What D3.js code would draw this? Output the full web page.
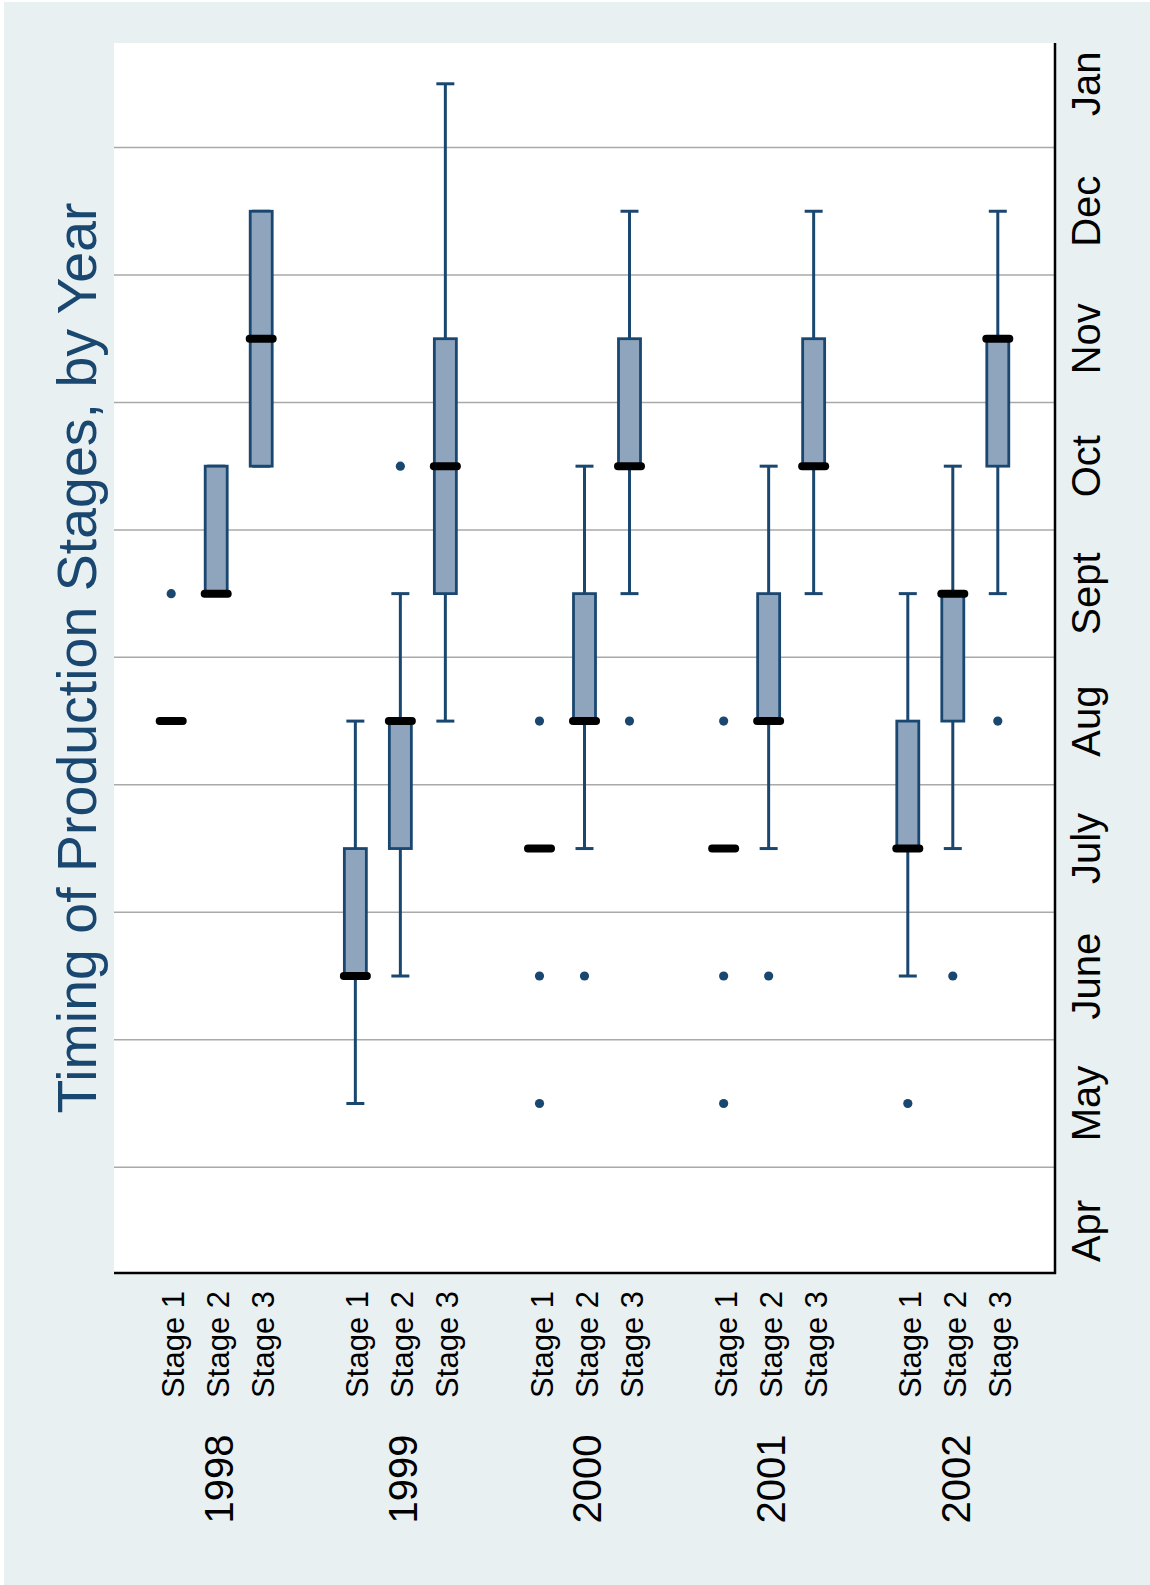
<!DOCTYPE html>
<html>
<head>
<meta charset="utf-8">
<script src="https://cdn.jsdelivr.net/npm/d3@7"></script>
<style>
  body { margin: 0; background: #fff; }
  text { font-family: "Liberation Sans", Arial, sans-serif; }
</style>
</head>
<body>
<div id="chart"></div>
<script>
// data (months as numbers: Apr=4 ... Dec=12, Jan=13)
const years = ["1998", "1999", "2000", "2001", "2002"]
const stages = ["Stage 1", "Stage 2", "Stage 3"]
const monthLabels = ["Apr", "May", "June", "July", "Aug", "Sept", "Oct", "Nov", "Dec", "Jan"]
const monthValues = [4, 5, 6, 7, 8, 9, 10, 11, 12, 13]
const gridValues = [4.5, 5.5, 6.5, 7.5, 8.5, 9.5, 10.5, 11.5, 12.5]

// one entry per year x stage, in order
const lowWhisker  = [8, 9, 10,   5, 6, 8,   7, 7, 9,   7, 7, 9,   6, 7, 9]
const q1          = [8, 9, 10,   6, 7, 9,   7, 8, 10,  7, 8, 10,  7, 8, 10]
const median      = [8, 9, 11,   6, 8, 10,  7, 8, 10,  7, 8, 10,  7, 9, 11]
const q3          = [8, 10, 12,  7, 8, 11,  7, 9, 11,  7, 9, 11,  8, 9, 11]
const highWhisker = [8, 10, 12,  8, 9, 13,  7, 10, 12, 7, 10, 12, 9, 10, 12]
const outliers    = [[9], [], [],  [], [10], [],  [5, 6, 8], [6], [8],  [5, 6, 8], [6], [],  [5], [6], [8]]

const W = 1150
const H = 1585
const plot = { left: 114, right: 1055, top: 43, bottom: 1273 }

const navy = "#1a476f"
const boxFill = "#8ea5bd"

const boxes = []
years.forEach((yr, i) => {
  stages.forEach((st, j) => {
    const k = i * stages.length + j
    boxes.push({
      year: yr, stage: st,
      lw: lowWhisker[k], q1: q1[k], med: median[k], q3: q3[k], hw: highWhisker[k],
      out: outliers[k]
    })
  })
})

const svg = d3.select("#chart")
  .append("svg")
  .attr("width", W)
  .attr("height", H)

svg.append("rect")
  .attr("x", 4).attr("y", 2)
  .attr("width", W - 4).attr("height", H - 2)
  .attr("fill", "#e9f0f2")

svg.append("rect")
  .attr("x", plot.left).attr("y", plot.top)
  .attr("width", plot.right - plot.left).attr("height", plot.bottom - plot.top)
  .attr("fill", "#fff")

// scales
const yScale = d3.scaleLinear()
  .domain([3.67, 13.32])
  .range([plot.bottom, plot.top])

const xYear = d3.scalePoint()
  .domain(years)
  .range([plot.left, plot.right])
  .padding(0.555)

const xStage = d3.scalePoint()
  .domain(stages)
  .range([-45, 45])

const cx = d => xYear(d.year) + xStage(d.stage)

// gridlines
svg.append("g")
  .selectAll("line")
  .data(gridValues)
  .join("line")
  .attr("x1", plot.left)
  .attr("x2", plot.right)
  .attr("y1", d => yScale(d))
  .attr("y2", d => yScale(d))
  .attr("stroke", "#a9a9a9")
  .attr("stroke-width", 1.5)

// axis lines
svg.append("line")
  .attr("x1", plot.right).attr("x2", plot.right)
  .attr("y1", plot.top).attr("y2", plot.bottom + 1)
  .attr("stroke", "#000").attr("stroke-width", 2.5)

svg.append("line")
  .attr("x1", plot.left).attr("x2", plot.right + 1)
  .attr("y1", plot.bottom).attr("y2", plot.bottom)
  .attr("stroke", "#000").attr("stroke-width", 2.5)

// month labels
svg.append("g")
  .selectAll("text")
  .data(monthValues)
  .join("text")
  .attr("transform", d => `translate(1100,${yScale(d)}) rotate(-90)`)
  .attr("text-anchor", "middle")
  .attr("font-size", 40)
  .attr("fill", "#000")
  .text((d, i) => monthLabels[i])

// stage labels
svg.append("g")
  .selectAll("text")
  .data(boxes)
  .join("text")
  .attr("transform", d => `translate(${cx(d)},1291) rotate(-90)`)
  .attr("dy", "0.42em")
  .attr("text-anchor", "end")
  .attr("font-size", 31)
  .attr("fill", "#000")
  .text(d => d.stage)

// year labels
svg.append("g")
  .selectAll("text")
  .data(years)
  .join("text")
  .attr("transform", d => `translate(${xYear(d)},1479) rotate(-90)`)
  .attr("dy", "0.42em")
  .attr("text-anchor", "middle")
  .attr("font-size", 40)
  .attr("fill", "#000")
  .text(d => d)

// title
svg.append("text")
  .attr("transform", `translate(96,${(plot.top + plot.bottom) / 2}) rotate(-90)`)
  .attr("text-anchor", "middle")
  .attr("font-size", 55.5)
  .attr("fill", navy)
  .text("Timing of Production Stages, by Year")

// boxes
const g = svg.append("g")
  .selectAll("g")
  .data(boxes)
  .join("g")

// whiskers
g.append("line")
  .attr("x1", cx).attr("x2", cx)
  .attr("y1", d => yScale(d.q3)).attr("y2", d => yScale(d.hw))
  .attr("stroke", navy).attr("stroke-width", 3)
g.append("line")
  .attr("x1", cx).attr("x2", cx)
  .attr("y1", d => yScale(d.q1)).attr("y2", d => yScale(d.lw))
  .attr("stroke", navy).attr("stroke-width", 3)
g.append("line")
  .attr("x1", d => cx(d) - 9).attr("x2", d => cx(d) + 9)
  .attr("y1", d => yScale(d.hw)).attr("y2", d => yScale(d.hw))
  .attr("stroke", navy).attr("stroke-width", 3)
g.append("line")
  .attr("x1", d => cx(d) - 9).attr("x2", d => cx(d) + 9)
  .attr("y1", d => yScale(d.lw)).attr("y2", d => yScale(d.lw))
  .attr("stroke", navy).attr("stroke-width", 3)

// box
g.filter(d => d.q3 > d.q1)
  .append("rect")
  .attr("x", d => cx(d) - 11)
  .attr("width", 22)
  .attr("y", d => yScale(d.q3))
  .attr("height", d => yScale(d.q1) - yScale(d.q3))
  .attr("fill", boxFill)
  .attr("stroke", navy)
  .attr("stroke-width", 2.8)

// median
g.append("line")
  .attr("x1", d => cx(d) - 11.5).attr("x2", d => cx(d) + 11.5)
  .attr("y1", d => yScale(d.med)).attr("y2", d => yScale(d.med))
  .attr("stroke", "#000")
  .attr("stroke-width", 8)
  .attr("stroke-linecap", "round")

// outside values
g.selectAll("circle")
  .data(d => d.out.map(v => ({ v: v, x: cx(d) })))
  .join("circle")
  .attr("cx", d => d.x)
  .attr("cy", d => yScale(d.v))
  .attr("r", 4.6)
  .attr("fill", navy)
</script>
</body>
</html>
